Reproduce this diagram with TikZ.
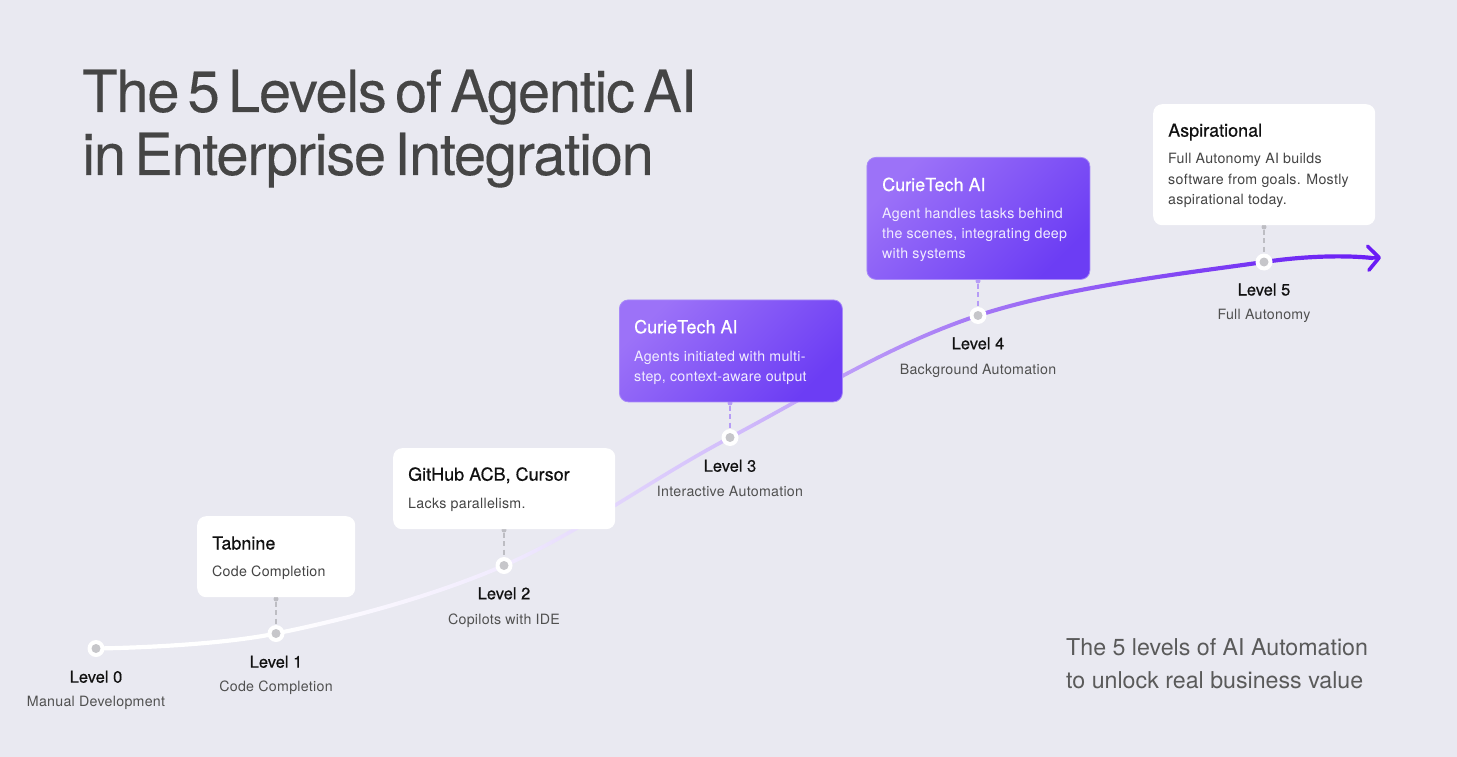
\documentclass[tikz,border=0pt]{standalone}
\usepackage{fontspec}
\setmainfont{TeX Gyre Heros}
\newfontfamily\titlefont[LetterSpace=-2.3,WordSpace=0.55,FakeBold=0.15]{TeX Gyre Heros}
\newfontfamily\medfont[FakeBold=0.4]{TeX Gyre Heros}
\newfontfamily\smallfont[LetterSpace=2]{TeX Gyre Heros}
\usetikzlibrary{arrows.meta}
\definecolor{bgc}{HTML}{E9E9F1}
\definecolor{ttlc}{HTML}{454545}
\definecolor{notec}{HTML}{5A5A5A}
\definecolor{lvlc}{HTML}{111111}
\definecolor{lsubc}{HTML}{505050}
\definecolor{bsubc}{HTML}{444444}
\definecolor{pbodyc}{HTML}{F1ECFF}
\definecolor{c2}{HTML}{F1EBFE}
\definecolor{c3}{HTML}{D2BDFB}
\definecolor{c4}{HTML}{A477F5}
\definecolor{c5}{HTML}{7432F4}
\definecolor{c6}{HTML}{6A1CF5}
\definecolor{pA}{HTML}{9C72F8}
\definecolor{pB}{HTML}{6C3DF4}
\definecolor{pEdge}{HTML}{A88AF8}
\definecolor{dgray}{HTML}{BDBDC3}
\definecolor{dpurp}{HTML}{B69CF6}
\definecolor{markdot}{HTML}{C6C6CA}
\pgfdeclarehorizontalshading{curveshade}{100bp}{color(0bp)=(white); color(25bp)=(white); color(32bp)=(white); color(40.9bp)=(c2); color(49.7bp)=(c3); color(59.3bp)=(c4); color(70.4bp)=(c5); color(75bp)=(c6); color(100bp)=(c6)}
\begin{document}
\begin{tikzpicture}[x=1pt,y=-1pt,
  marker/.style={circle, fill=white, minimum size=17pt, inner sep=0pt,
    path picture={\fill[markdot] (path picture bounding box.center) circle (4.5pt);}},
  smalldot/.style={circle, minimum size=5pt, inner sep=0pt},
  dconn/.style={line width=1.6pt, dash pattern=on 5pt off 3.5pt},
  wbox/.style={rectangle, rounded corners=9pt, fill=white, inner sep=0pt, anchor=north west},
  pbox/.style={rectangle, rounded corners=9pt, top color=pA, bottom color=pB, shading angle=45, draw=pEdge, line width=0.8pt, inner sep=0pt, anchor=north west},
  ttl/.style={inner sep=0pt, anchor=base west, text=ttlc, font=\titlefont\fontsize{58}{60}\selectfont},
  btitle/.style={inner sep=0pt, anchor=base west, text=lvlc, font=\medfont\fontsize{18}{20}\selectfont},
  ptitle/.style={btitle, text=white},
  bsub/.style={inner sep=0pt, anchor=base west, text=bsubc, font=\smallfont\fontsize{14.2}{16}\selectfont},
  pbody/.style={bsub, text=pbodyc},
  lvl/.style={inner sep=0pt, anchor=base, text=lvlc, font=\medfont\fontsize{16.5}{18}\selectfont},
  lsub/.style={inner sep=0pt, anchor=base, text=lsubc, font=\smallfont\fontsize{14.2}{16}\selectfont},
  note/.style={inner sep=0pt, anchor=base west, text=notec, font=\fontsize{23.2}{26}\selectfont}
]
\fill[bgc] (0,0) rectangle (1457,757);
\useasboundingbox (0,0) rectangle (1457,757);

% curve points
\coordinate (p0) at (96,648.5);
\coordinate (p1) at (276,633.5);
\coordinate (p2) at (504,565.5);
\coordinate (p3) at (730,437.5);
\coordinate (p4) at (978,315.5);
\coordinate (p5) at (1264,262);
\coordinate (pc) at (1372,258);
\coordinate (pe) at (1381,257.5);

% gradient curve
\begin{scope}
\clip plot[smooth, tension=0.6] coordinates {([yshift=2.1pt]p0) ([yshift=2.1pt]p1) ([yshift=2.1pt]p2) ([yshift=2.1pt]p3) ([yshift=2.1pt]p4) ([yshift=2.1pt]p5) ([yshift=2.1pt]pc)}
  -- plot[smooth, tension=0.6] coordinates {([yshift=-2.1pt]pc) ([yshift=-2.1pt]p5) ([yshift=-2.1pt]p4) ([yshift=-2.1pt]p3) ([yshift=-2.1pt]p2) ([yshift=-2.1pt]p1) ([yshift=-2.1pt]p0)} -- cycle;
\shade[shading=curveshade] (95,200) rectangle (1382,700);
\end{scope}
\draw[c6, line width=3.6pt, -{Straight Barb[length=11pt,width=24pt,round]}] (pc) -- (pe);

% markers
\node[marker] (L0) at (p0) {};
\node[marker] (L1) at (p1) {};
\node[marker] (L2) at (p2) {};
\node[marker] (L3) at (p3) {};
\node[marker] (L4) at (p4) {};
\node[marker] (L5) at (p5) {};

% dots under boxes and dashed connectors
\node[smalldot, fill=dgray] (d1) at (276,599) {};
\node[smalldot, fill=dgray] (d2) at (504,530) {};
\node[smalldot, fill=dpurp] (d3) at (730,403) {};
\node[smalldot, fill=dpurp] (d4) at (978,281) {};
\node[smalldot, fill=dgray] (d5) at (1264,227) {};
\draw[dconn, dgray] (d1) -- (L1);
\draw[dconn, dgray] (d2) -- (L2);
\draw[dconn, dpurp] (d3) -- (L3);
\draw[dconn, dpurp] (d4) -- (L4);
\draw[dconn, dgray] (d5) -- (L5);

% boxes
\node[wbox, minimum width=158pt, minimum height=81pt] (B1) at (197,516) {};
\node[wbox, minimum width=222pt, minimum height=81pt] (B2) at (393,448) {};
\node[pbox, minimum width=223pt, minimum height=102pt] (B3) at (619,299.5) {};
\node[pbox, minimum width=223pt, minimum height=122pt] (B4) at (866.5,157) {};
\node[wbox, minimum width=222pt, minimum height=121pt] (B5) at (1153,104) {};

% box texts
\node[btitle] (t1) at (212,549.5) {Tabnine};
\node[bsub] (s1) at (212,576.7) {Code Completion};
\node[btitle] (t2) at (408,480.7) {GitHub ACB, Cursor};
\node[bsub] (s2) at (408,508.3) {Lacks parallelism.};
\node[ptitle] (t3) at (634,333.3) {CurieTech AI};
\node[pbody] (s3a) at (634,361) {Agents initiated with multi-};
\node[pbody] (s3b) at (634,381) {step, context-aware output};
\node[ptitle] (t4) at (882,191) {CurieTech AI};
\node[pbody] (s4a) at (882,218.3) {Agent handles tasks behind};
\node[pbody] (s4b) at (882,238.3) {the scenes, integrating deep};
\node[pbody] (s4c) at (882,258.5) {with systems};
\node[btitle] (t5) at (1168,136.7) {Aspirational};
\node[bsub] (s5a) at (1168,164) {Full Autonomy AI builds};
\node[bsub] (s5b) at (1168,184.3) {software from goals. Mostly};
\node[bsub] (s5c) at (1168,204.3) {aspirational today.};

% level labels
\node[lvl] (n0) at (96,682.7) {Level 0};
\node[lsub] (m0) at (96,706.7) {Manual Development};
\node[lvl] (n1) at (276,667.7) {Level 1};
\node[lsub] (m1) at (276,691.7) {Code Completion};
\node[lvl] (n2) at (504,599.3) {Level 2};
\node[lsub] (m2) at (504,624) {Copilots with IDE};
\node[lvl] (n3) at (730,471.7) {Level 3};
\node[lsub] (m3) at (730,496) {Interactive Automation};
\node[lvl] (n4) at (978,349.3) {Level 4};
\node[lsub] (m4) at (978,374) {Background Automation};
\node[lvl] (n5) at (1264,295.5) {Level 5};
\node[lsub] (m5) at (1264,319.5) {Full Autonomy};

% title
\node[ttl] (T1) at (82,112) {The 5 Levels of Agentic AI};
\node[ttl] (T2) at (82,175) {in Enterprise Integration};

% note
\node[note] (N1) at (1066,655) {The 5 levels of AI Automation};
\node[note] (N2) at (1066,688.5) {to unlock real business value};
\end{tikzpicture}
\end{document}
